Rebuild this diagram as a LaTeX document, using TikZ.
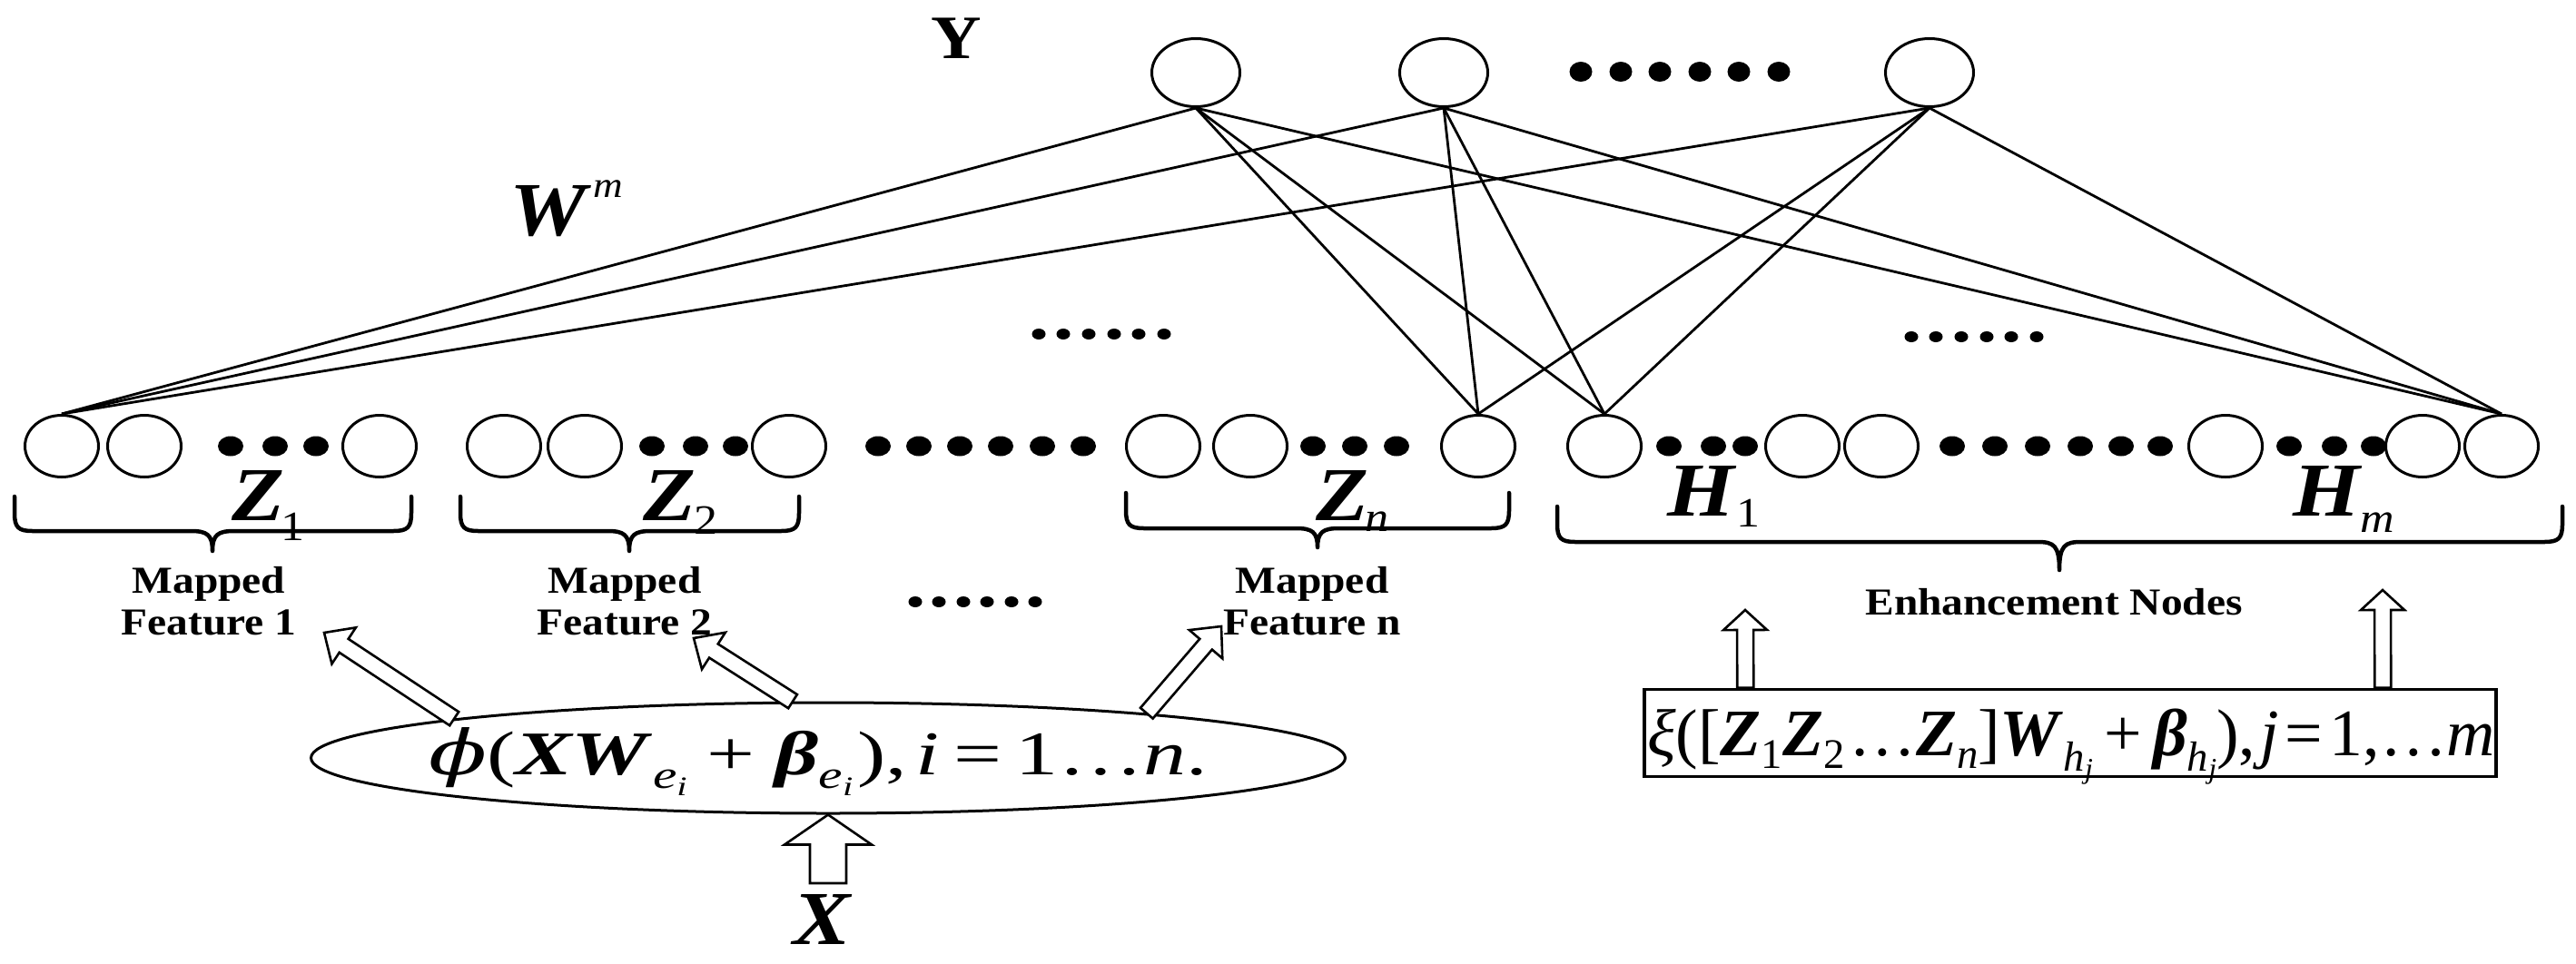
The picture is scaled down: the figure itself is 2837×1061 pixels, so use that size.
\documentclass[tikz,border=0pt]{standalone}
\usepackage{graphicx}
\usepackage{fontspec}
\setmainfont{Liberation Serif}
\newfontfamily\djv{DejaVu Serif}
\usetikzlibrary{shapes.geometric,calc}

\newcommand{\bi}[1]{\textbf{\textit{#1}}}
\newcommand{\sx}[1]{\scalebox{1.13}[1]{#1}}
\newcommand{\bigbi}{\fontsize{84}{84}\selectfont\bfseries\itshape}
\newcommand{\subf}{\fontsize{46}{46}\selectfont\mdseries\upshape}
\newcommand{\subsub}[2]{\raisebox{-14pt}{\fontsize{38}{38}\selectfont\itshape #1\raisebox{-7pt}{\fontsize{26}{26}\selectfont #2}}}
\newcommand{\subone}[1]{\raisebox{-12pt}{\fontsize{38}{38}\selectfont #1}}

\newcommand{\mybrace}[6]{% x1, xm, x2, ytop, yline, ytip
  \draw[bracestyle] (#1,#4) -- (#1,#5-20) .. controls (#1,#5-4) and (#1+4,#5) .. (#1+20,#5)
    -- (#2-24,#5) .. controls (#2-6,#5) and (#2,#5+4) .. (#2,#6)
    .. controls (#2,#5+4) and (#2+6,#5) .. (#2+24,#5)
    -- (#3-20,#5) .. controls (#3-4,#5) and (#3,#5-4) .. (#3,#5-20) -- (#3,#4);}

\newcommand{\hollowarrow}[5]{% start, tip, shaft half width, head half width, head length
  \coordinate (hah) at ($(#2)!#5!(#1)$);
  \draw[arrowline] ($(#1)!#3!90:(#2)$) -- ($(hah)!#3!90:(#2)$) -- ($(hah)!#4!90:(#2)$)
    -- (#2) -- ($(hah)!#4!-90:(#2)$) -- ($(hah)!#3!-90:(#2)$) -- ($(#1)!#3!-90:(#2)$) -- cycle;}

\begin{document}
\begin{tikzpicture}[x=1pt,y=-1pt,
  nd/.style={ellipse,draw,fill=white,line width=3pt,minimum width=81pt,minimum height=68pt,inner sep=0pt},
  yn/.style={ellipse,draw,fill=white,line width=3pt,minimum width=97pt,minimum height=75pt,inner sep=0pt},
  bdot/.style={ellipse,fill=black,minimum width=28pt,minimum height=22pt,inner sep=0pt},
  ydot/.style={ellipse,fill=black,minimum width=25pt,minimum height=22pt,inner sep=0pt},
  sdot/.style={ellipse,fill=black,minimum width=15pt,minimum height=12pt,inner sep=0pt},
  conn/.style={line width=2.8pt},
  bracestyle/.style={line width=4.5pt,line cap=round,line join=round},
  arrowline/.style={line width=2.6pt,fill=white,line join=miter},
  lbl/.style={font=\fontsize{42}{46}\selectfont\bfseries,inner sep=0pt,align=center},
  txt/.style={inner sep=0pt},
  ftext/.style={font=\fontsize{60}{60}\selectfont,inner sep=0pt}
]
\useasboundingbox (0,0) rectangle (2837,1061);

% output nodes Y
\node[yn] (y1) at (1317,80) {};
\node[yn] (y2) at (1590,80) {};
\node[yn] (y3) at (2125,80) {};
\foreach \x [count=\i] in {1741,1785,1828,1872,1915,1959}
  \node[ydot] (yd\i) at (\x,79) {};
\node[txt,font=\fontsize{68}{68}\selectfont\bfseries,anchor=base] (ylab) at (1053,64) {\sx{Y}};

% W^m
\node[txt,anchor=base west] (wlab) at (561,259) {\sx{\bigbi W}\hspace{8pt}\raisebox{42pt}{\sx{\fontsize{40}{40}\selectfont\itshape m}}};

% bottom row
\foreach \n/\x in {z1a/68,z1b/159,z1c/418,z2a/555,z2b/644,z2c/869,zna/1281,znb/1377,znc/1628,
                   ha/1767,hb/1985,hc/2072,hd/2451,he/2668,hf/2755}
  \node[nd] (\n) at (\x,491.5) {};
\foreach \x [count=\i] in {254,303,348,718,766,810,967,1012,1057,1102,1148,1193,1446,1492,1538,
                           1838,1887,1922,2150,2197,2244,2291,2336,2379,2521,2571,2614}
  \node[bdot] (bd\i) at (\x,491.5) {};

% small dots
\foreach \x [count=\i] in {1144,1171,1199,1227,1254,1282}
  \node[sdot] (sa\i) at (\x,368) {};
\foreach \x [count=\i] in {2105,2132,2160,2188,2215,2243}
  \node[sdot] (sb\i) at (\x,371) {};
\foreach \x [count=\i] in {1008,1034,1061,1087,1114,1140}
  \node[sdot] (sc\i) at (\x,663) {};

% connections
\foreach \a in {y1,y2,y3}
  \foreach \b in {z1a,znc,ha,hf}
    \draw[conn] (\a.south) -- (\b.north);

% group labels
\node[txt,anchor=base west] (lz1) at (255,573) {\sx{\bigbi Z}\kern-4pt\raisebox{-22pt}{\sx{\subf 1}}};
\node[txt,anchor=base west] (lz2) at (708,573) {\sx{\bigbi Z}\kern-2pt\raisebox{-15pt}{\sx{\subf 2}}};
\node[txt,anchor=base west] (lzn) at (1449,573) {\sx{\bigbi Z}\kern-4pt\raisebox{-12pt}{\sx{\subf\itshape n}}};
\node[txt,anchor=base west] (lh1) at (1836,568) {\sx{\bigbi H}\kern2pt\raisebox{-12pt}{\sx{\subf 1}}};
\node[txt,anchor=base west] (lhm) at (2525,568) {\sx{\bigbi H}\kern0pt\raisebox{-18pt}{\sx{\subf\itshape m}}};

% braces
\mybrace{16}{234}{453}{547}{585}{607}
\mybrace{507}{693}{880}{547}{585}{607}
\mybrace{1240}{1451}{1662}{543}{582}{603}
\mybrace{1715}{2268}{2822}{558}{597}{628}

% brace captions
\node[lbl,anchor=north] (mf1) at (230,621) {\sx{\begin{tabular}{@{}c@{}}Mapped\\Feature 1\end{tabular}}};
\node[lbl,anchor=north] (mf2) at (688,621) {\sx{\begin{tabular}{@{}c@{}}Mapped\\Feature 2\end{tabular}}};
\node[lbl,anchor=north] (mfn) at (1445,621) {\sx{\begin{tabular}{@{}c@{}}Mapped\\Feature n\end{tabular}}};
\node[lbl,anchor=base] (enh) at (2262,677) {\sx{Enhancement Nodes}};

% feature mapping ellipse
\node[ellipse,draw,fill=white,line width=3pt,minimum width=1139pt,minimum height=122pt,inner sep=0pt] (fe) at (912,835) {};
\node[ftext,anchor=base] (fet) at (901,853)
  {\resizebox{858pt}{1.14\height}{{\djv\itshape ϕ}(\bi{XW}\subsub{e}{i}\hspace{14pt}+\hspace{14pt}\bi{β}\subsub{e}{i}\hspace{3pt}),\hspace{6pt}\textit{i}\hspace{10pt}=\hspace{10pt}1…\textit{n}.}};

% enhancement box
\node[draw,line width=3.5pt,minimum width=938pt,minimum height=96pt,inner sep=0pt] (eb) at (2280,807.5) {};
\node[ftext,anchor=base] (ebt) at (2281,832)
  {\resizebox{934pt}{1.22\height}{\textit{ξ}([\bi{Z}\subone{1}\bi{Z}\subone{2}\hspace{4pt}…\bi{Z}\subone{\itshape n}]\bi{W}\subsub{h}{j}\hspace{10pt}+\hspace{10pt}\bi{β}\subsub{h}{j}),\hspace{4pt}\textit{j}\hspace{6pt}=\hspace{6pt}1,…\textit{m}}};

% hollow arrows
\coordinate (a1t) at (357,697);
\coordinate (a2t) at (764,703);
\coordinate (a3t) at (1345,690);
\hollowarrow{fe.174}{a1t}{9pt}{24pt}{26pt}
\hollowarrow{fe.122}{a2t}{9pt}{24pt}{26pt}
\hollowarrow{fe.8}{a3t}{9pt}{24pt}{26pt}

\coordinate (u1s) at ($(eb.north west)+(113,0)$);
\coordinate (u2s) at ($(eb.north west)+(815,0)$);
\coordinate (u1t) at (1922,672);
\coordinate (u2t) at (2624,650);
\hollowarrow{u1s}{u1t}{9pt}{24pt}{22pt}
\hollowarrow{u2s}{u2t}{9pt}{24pt}{22pt}

\coordinate (xs) at (912,973);
\hollowarrow{xs}{fe.south}{20pt}{48pt}{33pt}
\node[txt,anchor=base] (xlab) at (905,1040) {\sx{\bigbi X}};
\end{tikzpicture}
\end{document}
